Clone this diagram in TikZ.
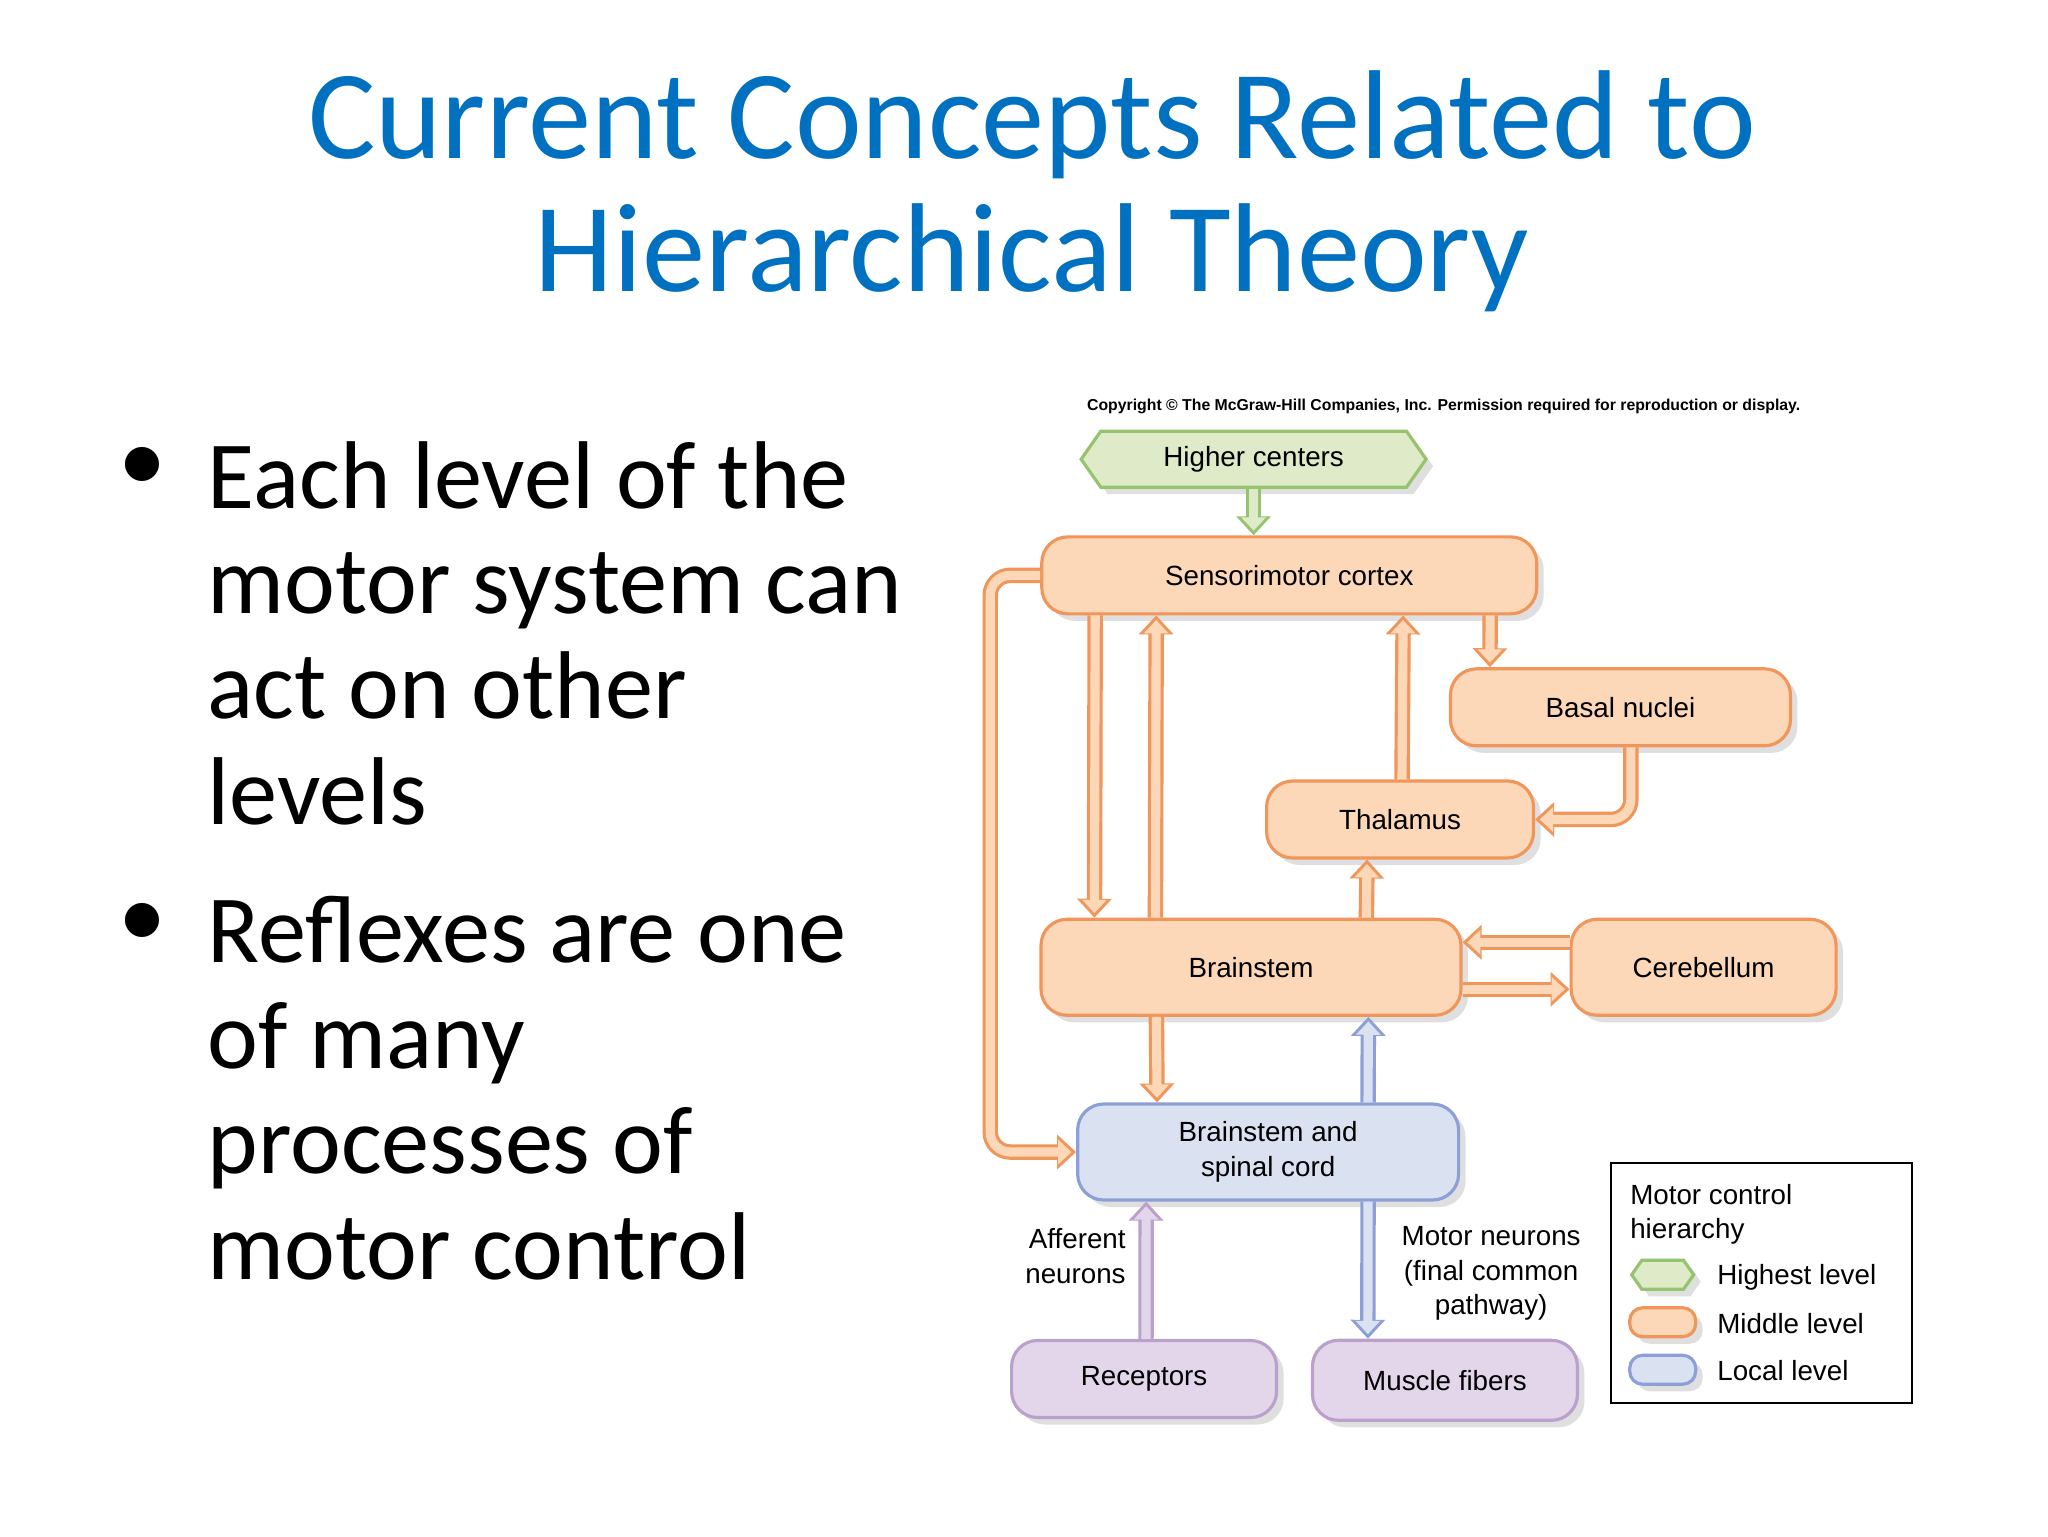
\documentclass[tikz,border=0pt]{standalone}
\usepackage{fontspec}
\setmainfont{Carlito}
\newfontfamily\diafont{Liberation Sans}
\usetikzlibrary{arrows.meta,shapes.symbols,shadows}

\definecolor{titleblue}{RGB}{0,112,192}
\definecolor{orline}{RGB}{240,150,90}
\definecolor{orfill}{RGB}{252,216,184}
\definecolor{grline}{RGB}{150,195,110}
\definecolor{grfill}{RGB}{222,234,200}
\definecolor{blline}{RGB}{140,160,215}
\definecolor{blfill}{RGB}{218,226,242}
\definecolor{puline}{RGB}{185,160,205}
\definecolor{pufill}{RGB}{228,214,234}

\tikzset{
  boxshadow/.style={drop shadow={opacity=0.25,shadow xshift=2pt,shadow yshift=-2pt}},
  midbox/.style={rounded corners=2.6mm,draw=orline,fill=orfill,line width=0.9pt,boxshadow,
    font=\diafont\fontsize{7.9}{9.8}\selectfont,align=center},
  locbox/.style={midbox,draw=blline,fill=blfill},
  endbox/.style={midbox,draw=puline,fill=pufill},
  topbox/.style={signal,signal to=west and east,signal pointer angle=110,draw=grline,fill=grfill,
    line width=0.9pt,boxshadow,font=\diafont\fontsize{7.9}{9.8}\selectfont,inner xsep=6pt},
  arrowout/.style={draw=#1,line width=4.4pt,-{Triangle[width=9.6pt,length=5.4pt]}},
  arrowin/.style={draw=#1,line width=2.6pt,shorten >=1.3pt,-{Triangle[width=6.8pt,length=3.8pt]}},
  lbl/.style={font=\diafont\fontsize{7.9}{9.8}\selectfont,align=center},
  bullettext/.style={anchor=north west,align=left,font=\fontsize{27.4}{30}\selectfont},
}
% hollow arrow: outline colour, fill colour, path
\newcommand\harrow[3]{\draw[arrowout=#1,rounded corners=2mm] #3; \draw[arrowin=#2,rounded corners=2mm] #3;}

\begin{document}
\begin{tikzpicture}[x=0.0132cm,y=-0.0132cm]
  \useasboundingbox[fill=white] (0,0) rectangle (1552,1164);
  % Title
  \node[text=titleblue,font=\fontsize{36}{38}\selectfont,align=center] (title) at (782,145)
    {Current Concepts Related to\\Hierarchical Theory};
  % Bullets
  \node[bullettext] (b1) at (148,325) {Each level of the\\motor system can\\act on other\\levels};
  \node[bullettext] (b2) at (148,670) {Reflexes are one\\of many\\processes of\\motor control};
  \node[font=\fontsize{27.4}{30}\selectfont] (d1) at (108,356) {\textbullet};
  \node[font=\fontsize{27.4}{30}\selectfont] (d2) at (108,701) {\textbullet};

  % Diagram
  \node[font=\diafont\bfseries\fontsize{4.5}{5}\selectfont] (copy) at (1094,308)
    {Copyright \textcopyright{} The McGraw-Hill Companies, Inc. Permission required for reproduction or display.};
  \node[topbox,minimum width=3.45cm,minimum height=0.56cm] (hc) at (950,348) {Higher centers};
  \node[midbox,minimum width=4.95cm,minimum height=0.77cm] (smc) at (977,436) {Sensorimotor cortex};
  \node[midbox,minimum width=3.40cm,minimum height=0.77cm] (bn) at (1228,536) {Basal nuclei};
  \node[midbox,minimum width=2.67cm,minimum height=0.77cm] (th) at (1061,621) {Thalamus};
  \node[midbox,minimum width=4.20cm,minimum height=0.96cm] (bs) at (948,733) {Brainstem};
  \node[midbox,minimum width=2.65cm,minimum height=0.96cm] (cb) at (1291,733) {Cerebellum};
  \node[locbox,minimum width=3.81cm,minimum height=0.96cm] (sc) at (961,873) {Brainstem and\\spinal cord};
  \node[endbox,minimum width=2.65cm,minimum height=0.77cm] (rc) at (867,1045) {Receptors};
  \node[endbox,minimum width=2.65cm,minimum height=0.80cm] (mf) at (1095,1046) {Muscle fibers};

  % Connectors
  \harrow{grline}{grfill}{(hc.south) -- (smc.north -| hc.south)}
  \harrow{orline}{orfill}{([xshift=0.55cm]smc.south west) -- ([xshift=0.55cm]bs.north west)}
  \harrow{orline}{orfill}{([xshift=1.16cm]bs.north west) -- ([xshift=1.16cm]smc.south west)}
  \harrow{orline}{orfill}{([xshift=1.37cm]th.north west) -- ([xshift=3.63cm]smc.south west)}
  \harrow{orline}{orfill}{([xshift=4.50cm]smc.south west) -- ([xshift=0.41cm]bn.north west)}
  \harrow{orline}{orfill}{([xshift=1.82cm]bn.south west) |- (th.east)}
  \harrow{orline}{orfill}{([xshift=3.27cm]bs.north west) -- ([xshift=1.02cm]th.south west)}
  \harrow{orline}{orfill}{([yshift=0.25cm]cb.west) -- ([yshift=0.25cm]bs.east)}
  \harrow{orline}{orfill}{([yshift=-0.22cm]bs.east) -- ([yshift=-0.22cm]cb.west)}
  \harrow{orline}{orfill}{([xshift=1.17cm]bs.south west) -- ([xshift=0.81cm]sc.north west)}
  \harrow{orline}{orfill}{(smc.west) -- ++(-0.5cm,0) |- (sc.west)}
  \harrow{blline}{blfill}{([xshift=2.92cm]sc.north west) -- ([xshift=3.29cm]bs.south west)}
  \harrow{blline}{blfill}{([xshift=2.92cm]sc.south west) -- ([xshift=0.57cm]mf.north west)}
  \harrow{puline}{pufill}{([xshift=1.36cm]rc.north west) -- ([xshift=0.70cm]sc.south west)}

  \node[lbl,align=right] (aff) at (815,952) {Afferent\\neurons};
  \node[lbl] (mn) at (1130,965) {Motor neurons\\(final common\\pathway)};

  % Legend
  \node[draw=black,line width=0.6pt,minimum width=3.01cm,minimum height=2.40cm] (leg) at (1335,972) {};
  \node[lbl,align=left,anchor=north west] (legt) at (1226,888) {Motor control\\hierarchy};
  \node[topbox,minimum width=0.62cm,minimum height=0.29cm,inner sep=0pt] (lg1) at (1260,966) {};
  \node[midbox,rounded corners=1.3mm,minimum width=0.66cm,minimum height=0.29cm,inner sep=0pt] (lg2) at (1260,1002) {};
  \node[locbox,rounded corners=1.3mm,minimum width=0.66cm,minimum height=0.29cm,inner sep=0pt] (lg3) at (1260,1038) {};
  \node[lbl,anchor=west] (lgl1) at (1292,968) {Highest level};
  \node[lbl,anchor=west] (lgl2) at (1292,1003) {Middle level};
  \node[lbl,anchor=west] (lgl3) at (1292,1039) {Local level};
\end{tikzpicture}
\end{document}
